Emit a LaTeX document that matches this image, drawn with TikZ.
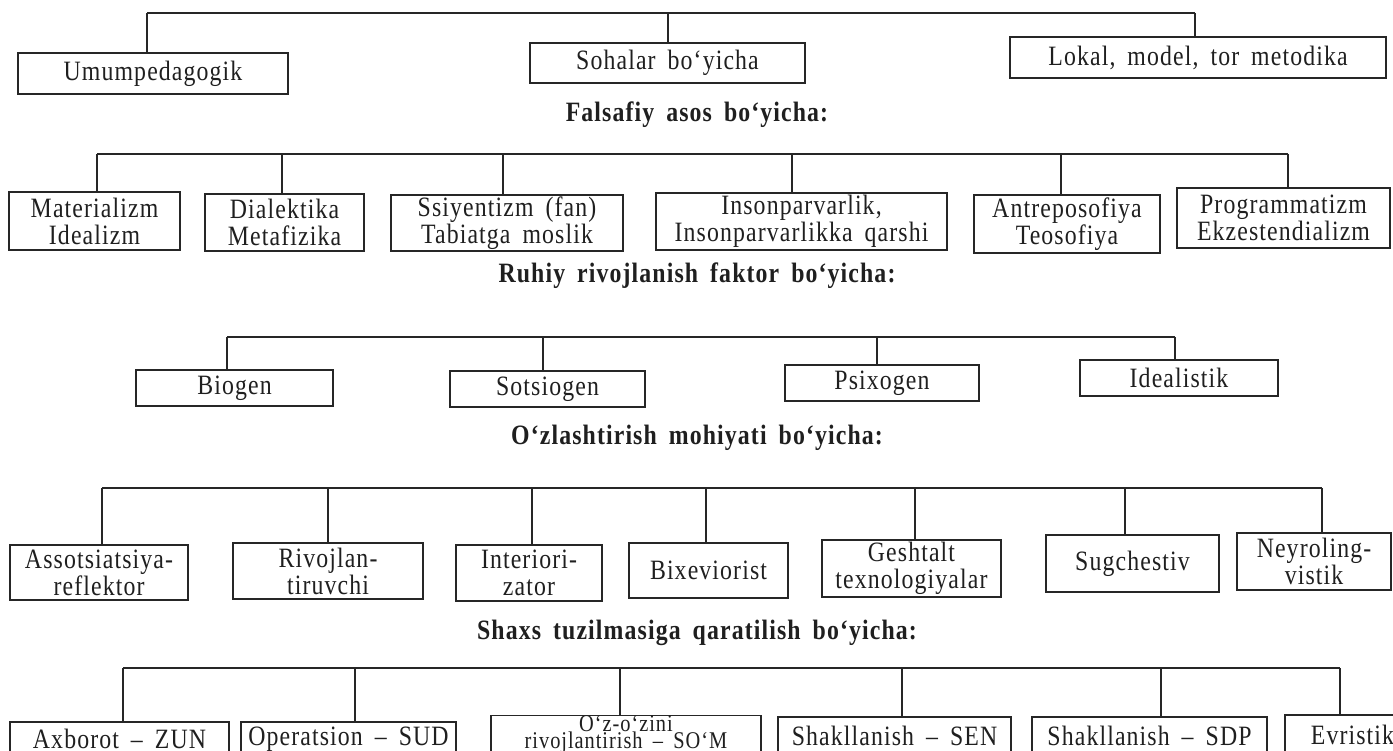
\documentclass[tikz,border=0pt]{standalone}
\usepackage{fontspec}
\setmainfont{Liberation Serif}[FakeStretch=0.85,LetterSpace=4,WordSpace=1.7]
\newcommand\bx[6]{\node[box, minimum width={(#4-#2)*1pt}, minimum height={(#5-#3)*1pt}] (#1) at ({(#2+#4)/2},{(#3+#5)/2}) {#6};}
\newcommand\tie[2]{\draw[conn] (#1) -- (#1 |- #2.north);}
\begin{document}
\begin{tikzpicture}[x=1pt,y=-1pt,
  box/.style={draw=black!85, line width=1.4pt, inner sep=0pt, align=center, font=\fontsize{28}{27}\selectfont, text=black!88},
  conn/.style={draw=black!85, line width=1.4pt},
  ttl/.style={font=\fontsize{28}{27}\selectfont\bfseries, text=black!88}]
\useasboundingbox (0,0) rectangle (1393,751);
\clip (0,0) rectangle (1393,751);
\fill[white] (0,0) rectangle (1393,751);

% Row 0
\bx{umum}{18}{53}{288}{94}{Umumpedagogik}
\bx{soha}{530}{43}{805}{83}{Sohalar bo‘yicha}
\bx{lokal}{1010}{37}{1386}{78}{Lokal, model, tor metodika}
\coordinate (a1) at (147,13); \coordinate (a2) at (668,13); \coordinate (a3) at (1195,13);
\draw[conn] (a1) -- (a3);
\tie{a1}{umum}\tie{a2}{soha}\tie{a3}{lokal}

% Title 1
\node[ttl] (t1) at (697,115) {Falsafiy asos bo‘yicha:};
\bx{mat}{9}{192}{180}{250}{Materializm\\Idealizm}
\bx{dia}{205}{194}{364}{251}{Dialektika\\Metafizika}
\bx{ssi}{391}{195}{623}{251}{Ssiyentizm (fan)\\Tabiatga moslik}
\bx{ins}{656}{193}{947}{250}{Insonparvarlik,\\Insonparvarlikka qarshi}
\bx{ant}{974}{195}{1160}{253}{Antreposofiya\\Teosofiya}
\bx{pro}{1177}{188}{1390}{248}{Programmatizm\\Ekzestendializm}
\coordinate (b1) at (97,154); \coordinate (b2) at (282,154); \coordinate (b3) at (503,154);
\coordinate (b4) at (792,154); \coordinate (b5) at (1061,154); \coordinate (b6) at (1288,154);
\draw[conn] (b1) -- (b6);
\tie{b1}{mat}\tie{b2}{dia}\tie{b3}{ssi}\tie{b4}{ins}\tie{b5}{ant}\tie{b6}{pro}

% Title 2
\node[ttl] (t2) at (697,276) {Ruhiy rivojlanish faktor bo‘yicha:};
\bx{bio}{136}{370}{333}{406}{Biogen}
\bx{sot}{450}{371}{645}{407}{Sotsiogen}
\bx{psi}{785}{365}{979}{401}{Psixogen}
\bx{ide}{1080}{360}{1278}{396}{Idealistik}
\coordinate (c1) at (227,337); \coordinate (c2) at (543,337); \coordinate (c3) at (877,337); \coordinate (c4) at (1175,337);
\draw[conn] (c1) -- (c4);
\tie{c1}{bio}\tie{c2}{sot}\tie{c3}{psi}\tie{c4}{ide}

% Title 3
\node[ttl] (t3) at (697,438) {O‘zlashtirish mohiyati bo‘yicha:};
\bx{ass}{10}{545}{188}{600}{Assotsiatsiya-\\reflektor}
\bx{riv}{233}{543}{423}{599}{Rivojlan-\\tiruvchi}
\bx{int}{456}{545}{602}{601}{Interiori-\\zator}
\bx{bix}{629}{543}{788}{598}{Bixeviorist}
\bx{ges}{822}{540}{1001}{597}{Geshtalt\\texnologiyalar}
\bx{sug}{1046}{535}{1219}{592}{Sugchestiv}
\bx{ney}{1237}{533}{1391}{590}{Neyroling-\\vistik}
\coordinate (d1) at (102,488); \coordinate (d2) at (328,488); \coordinate (d3) at (532,488); \coordinate (d4) at (706,488);
\coordinate (d5) at (915,488); \coordinate (d6) at (1125,488); \coordinate (d7) at (1322,488);
\draw[conn] (d1) -- (d7);
\tie{d1}{ass}\tie{d2}{riv}\tie{d3}{int}\tie{d4}{bix}\tie{d5}{ges}\tie{d6}{sug}\tie{d7}{ney}

% Title 4
\node[ttl] (t4) at (697,633) {Shaxs tuzilmasiga qaratilish bo‘yicha:};
\bx{axb}{10}{722}{229}{756}{Axborot – ZUN}
\bx{ope}{241}{722}{456}{756}{Operatsion – SUD}
\node[box, font=\fontsize{24}{17}\selectfont, anchor=north, inner ysep=0pt, minimum width=270pt] (ozo) at (626,715) {O‘z-o‘zini\\rivojlantirish – SO‘M\\[-2pt]};
\bx{sen}{778}{717}{1011}{755}{Shakllanish – SEN}
\bx{sdp}{1032}{717}{1267}{755}{Shakllanish – SDP}
\bx{evr}{1285}{715}{1420}{755}{Evristik}
\coordinate (e1) at (123,668); \coordinate (e2) at (355,668); \coordinate (e3) at (620,668);
\coordinate (e4) at (902,668); \coordinate (e5) at (1161,668); \coordinate (e6) at (1340,668);
\draw[conn] (e1) -- (e6);
\tie{e1}{axb}\tie{e2}{ope}\tie{e3}{ozo}\tie{e4}{sen}\tie{e5}{sdp}\tie{e6}{evr}
\end{tikzpicture}
\end{document}
